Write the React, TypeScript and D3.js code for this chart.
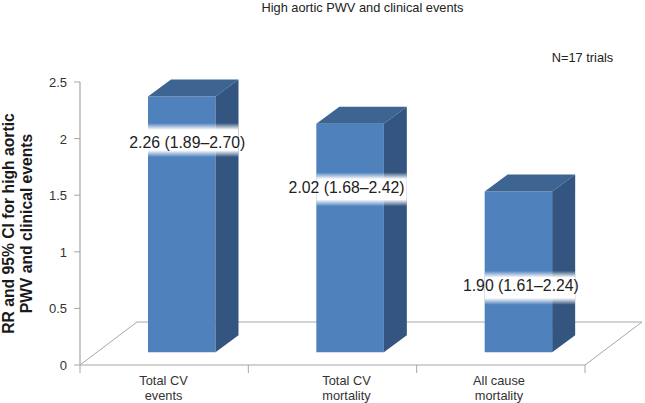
import React from "react";
import * as d3 from "d3";

const categories = [["Total CV", "events"], ["Total CV", "mortality"], ["All cause", "mortality"]];
const barValues = [2.26, 2.02, 1.42];
const barLabels = ["2.26 (1.89–2.70)", "2.02 (1.68–2.42)", "1.90 (1.61–2.24)"];
const labelLevels = [1.875, 1.44, 0.57];
const yTicks = [0, 0.5, 1, 1.5, 2, 2.5];
const yTickLabels = ["0", "0.5", "1", "1.5", "2", "2.5"];

const W = 645, H = 403;
const FONT = "'Liberation Sans', Arial, sans-serif";
const AXIS = "#a6a6a6";
const x0 = 80, x1 = 585, yBase = 365, yTop = 82;
const dx = 57, dy = 43;
const barDepthX = 23, barDepthY = 17;
const barFloorOffset = 12.7;

const y = d3.scaleLinear().domain([0, 2.5]).range([yBase, yTop]);
const band = d3.scaleBand<number>().domain([0, 1, 2]).range([x0, x1]);
const barW = 67.5;
const labelDx = [-6, -15, -9];
const labelDy = [8, 4, 3.5];
const catX = [163.5, 346.5, 499];

export default function App() {
  const unit = y(0) - y(1);
  const line = d3.line();
  return (
    <svg width={W} height={H} viewBox={`0 0 ${W} ${H}`} style={{ position: "absolute", left: 0, top: 0, background: "#fff" }} fontFamily={FONT}>
      <defs>
        <linearGradient id="fade" x1="0" x2="0" y1="0" y2="1">
          <stop offset="0" stopColor="#fff" stopOpacity="0" />
          <stop offset="0.2" stopColor="#fff" stopOpacity="1" />
          <stop offset="0.8" stopColor="#fff" stopOpacity="1" />
          <stop offset="1" stopColor="#fff" stopOpacity="0" />
        </linearGradient>
      </defs>
      <text x={362.5} y={11.6} fontSize={12.8} textAnchor="middle" fill="#222">High aortic PWV and clinical events</text>
      <text x={582.5} y={62} fontSize={12.8} textAnchor="middle" fill="#222">N=17 trials</text>

      <path d={line([[x0, yBase], [x0 + dx, yBase - dy], [x1 + dx, yBase - dy], [x1, yBase]]) ?? ""} fill="none" stroke={AXIS} strokeWidth={1} />
      <path d={line([[x0, yTop], [x0, yBase]]) ?? ""} fill="none" stroke={AXIS} strokeWidth={1.2} />
      <path d={line([[x0, yBase], [x1, yBase]]) ?? ""} fill="none" stroke={AXIS} strokeWidth={1.2} />
      {yTicks.map((t, i) => (
        <g key={t}>
          <line x1={x0 - 6} x2={x0} y1={y(t)} y2={y(t)} stroke={AXIS} strokeWidth={1} />
          <text x={x0 - 13} y={y(t) + 5} fontSize={13} textAnchor="end" fill="#333">{yTickLabels[i]}</text>
        </g>
      ))}
      {[0, 1, 2].map((i) => (
        <line key={i} x1={band(i)!} x2={band(i)!} y1={yBase} y2={yBase + 8} stroke={AXIS} strokeWidth={1} />
      ))}
      <line x1={x1} x2={x1} y1={yBase} y2={yBase + 8} stroke={AXIS} strokeWidth={1} />

      {barValues.map((v, i) => {
        const left = band(i)! + 68;
        const right = left + barW;
        const bottom = yBase - barFloorOffset;
        const top = bottom - v * unit;
        const ly = bottom - labelLevels[i] * unit;
        const cx = (left + right + barDepthX) / 2 + labelDx[i];
        return (
          <g key={i}>
            <path d={line([[left, bottom], [left, top], [right, top], [right, bottom]]) ?? ""} fill="#4f81bd" />
            <path d={line([[left, top], [left + barDepthX, top - barDepthY], [right + barDepthX, top - barDepthY], [right, top]]) ?? ""} fill="#3e6491" />
            <path d={line([[right, bottom], [right, top], [right + barDepthX, top - barDepthY], [right + barDepthX, bottom - barDepthY]]) ?? ""} fill="#33557f" />
            <rect x={left} y={ly - 17} width={barW + barDepthX} height={34} fill="url(#fade)" />
            <text x={cx} y={ly + labelDy[i]} fontSize={15.8} textAnchor="middle" fill="#222">{barLabels[i]}</text>
          </g>
        );
      })}

      {categories.map((lines, i) => (
        <text key={i} fontSize={12.8} textAnchor="middle" fill="#333">
          {lines.map((l, j) => (
            <tspan key={j} x={catX[i]} y={385 + j * 15}>{l}</tspan>
          ))}
        </text>
      ))}

      <g transform="translate(14.4,223.5) rotate(-90)">
        <text fontSize={15.7} fontWeight="bold" textAnchor="middle" fill="#1a1a1a">
          <tspan x={0} y={0}>RR and 95% CI for high aortic</tspan>
          <tspan x={0} y={17.5}>PWV and clinical events</tspan>
        </text>
      </g>
    </svg>
  );
}
